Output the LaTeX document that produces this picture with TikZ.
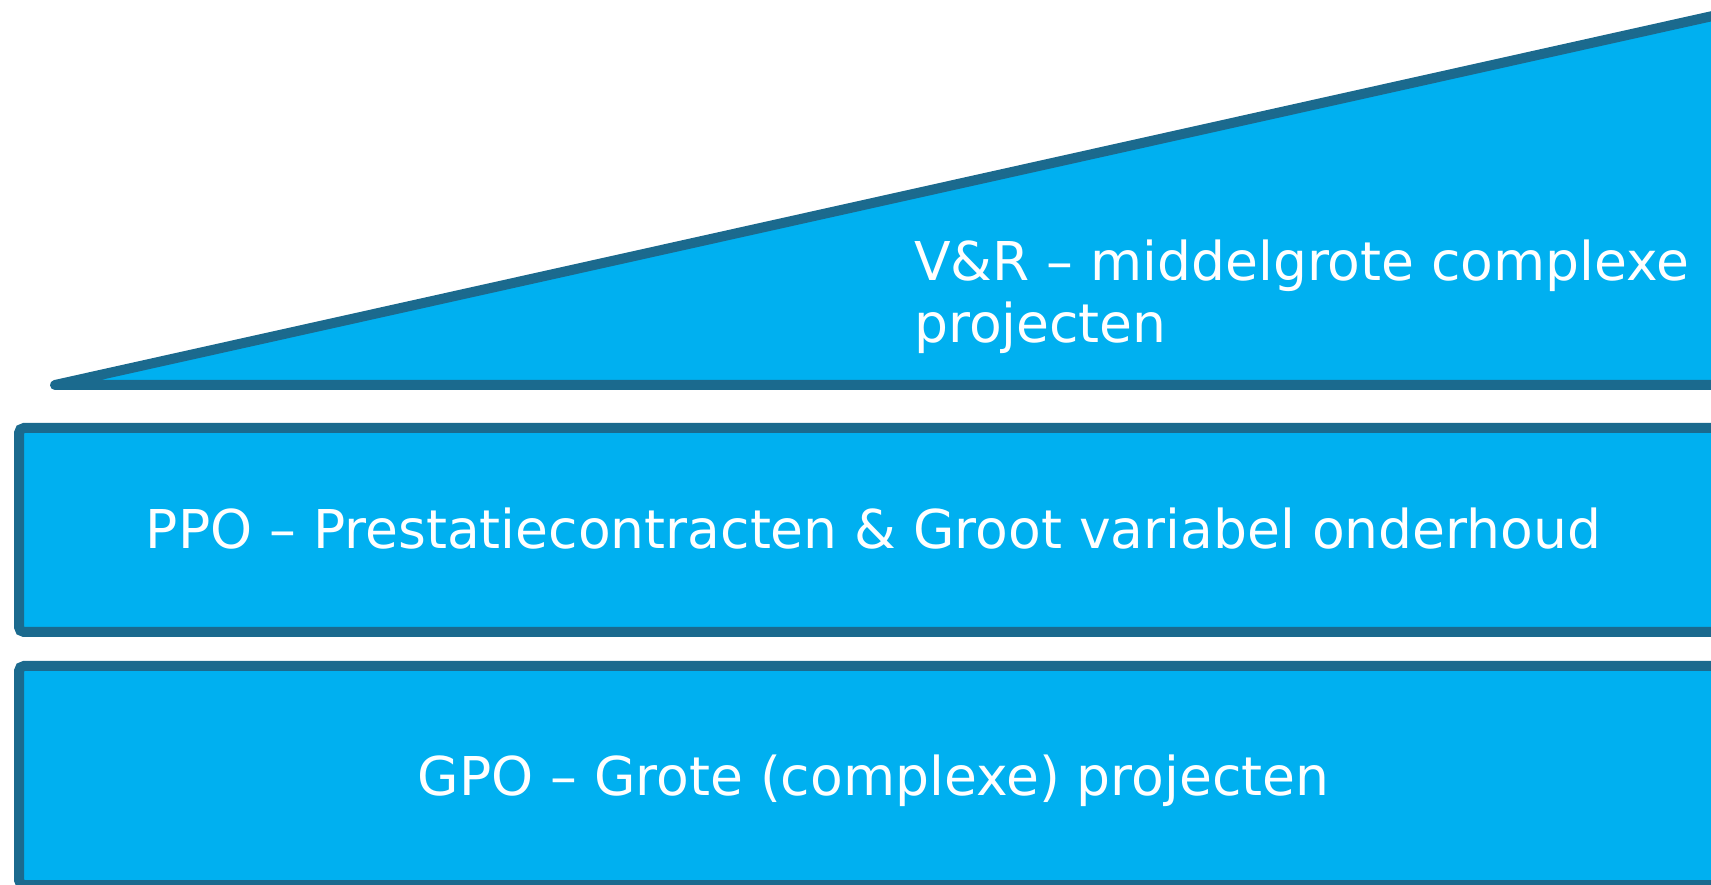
\documentclass[tikz,border=0pt]{standalone}
\usepackage{fontspec}
\setmainfont{DejaVu Sans}
\definecolor{tierfill}{HTML}{00B0F0}
\definecolor{tierline}{HTML}{1B6A8E}
\begin{document}
\begin{tikzpicture}[x=1pt,y=1pt,
  tier/.style={draw=tierline, fill=tierfill, line width=10pt, rounded corners=5pt,
    minimum width=1709pt, inner sep=0pt},
  label/.style={text=white, inner sep=0pt, align=left,
    font=\fontsize{53.5}{62}\selectfont}]
\useasboundingbox (0,0) rectangle (1711,884);
\begin{scope}
\clip (0,0) rectangle (1711,884);
% top wedge
\coordinate (tip) at (55,499);
\coordinate (wedgetop) at (1780,883);
\coordinate (wedgebase) at (1780,499);
\draw[draw=tierline, fill=tierfill, line width=10pt, line join=round]
  (tip) -- (wedgetop) -- (wedgebase) -- cycle;
% the two lower tiers
\node[tier, minimum height=204pt] (ppo) at (873.5,354) {};
\node[tier, minimum height=219pt] (gpo) at (873.5,108.5) {};
\end{scope}
\node[label] (ppotext) at ([yshift=1pt]ppo.center)
  {PPO -- Prestatiecontracten \& Groot variabel onderhoud};
\node[label] (gpotext) at ([yshift=-5pt]gpo.center)
  {GPO -- Grote (complexe) projecten};
\node[label, anchor=base west] (vr) at (914,541)
  {V\&R -- middelgrote complexe\\projecten};
\end{tikzpicture}
\end{document}
